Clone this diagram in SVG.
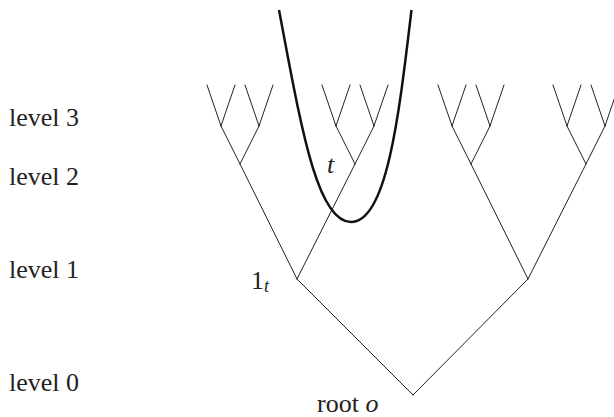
<svg xmlns="http://www.w3.org/2000/svg" width="614" height="417" viewBox="0 0 614 417">
<style>
.e{stroke:#222;stroke-width:1;fill:none;stroke-linecap:round}
.lbl{font-family:"Liberation Serif","Times New Roman",serif;font-size:26px;fill:#222}
.it{font-style:italic}
</style>
<rect width="614" height="417" fill="#fff"/>
<g id="connectors">
<path class="e" d="M413,395 L297,279 M413,395 L528,279"/>
<path class="e" d="M297,279 L240,164 M297,279 L355,164 M528,279 L471,164 M528,279 L586,164"/>
<path class="e" d="M240,164 L221,126 M240,164 L259,126 M355,164 L336,126 M355,164 L374,126 M471,164 L452,126 M471,164 L490,126 M586,164 L567,126 M586,164 L605,126"/>
<path class="e" d="M221,126 L207,85 M221,126 L235,85 M259,126 L245,85 M259,126 L273,85 M336,126 L322,85 M336,126 L350,85 M374,126 L360,85 M374,126 L388,85 M452,126 L438,85 M452,126 L466,85 M490,126 L476,85 M490,126 L504,85 M567,126 L553,85 M567,126 L581,85 M605,126 L591,85 M605,126 L619,85"/>
</g>
<g id="curve">
<path d="M279,10 C300,120 316,222 351,222 C387,222 399,115 411.5,10" fill="none" stroke="#111" stroke-width="2.5"/>
</g>
<g id="labels">
<text class="lbl" x="9" y="126">level 3</text>
<text class="lbl" x="9" y="185">level 2</text>
<text class="lbl" x="9" y="278">level 1</text>
<text class="lbl" x="9" y="391">level 0</text>
<text class="lbl" x="251" y="289">1<tspan class="it" font-size="18" dy="3">t</tspan></text>
<text class="lbl it" x="327" y="173">t</text>
<text class="lbl" x="317" y="412">root <tspan class="it">o</tspan></text>
</g>
</svg>
